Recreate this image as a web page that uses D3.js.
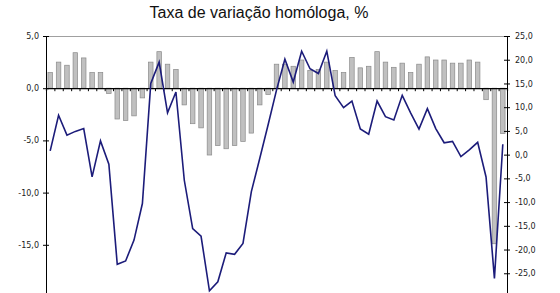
<!DOCTYPE html>
<html>
<head>
<meta charset="utf-8">
<style>
  body { margin: 0; background: #fff; }
  svg { display: block; }
  .tick text { font-family: "DejaVu Sans", Verdana, sans-serif; font-size: 8px; fill: #222; }
</style>
</head>
<body>
<div id="chart"></div>
<script src="https://d3js.org/d3.v7.min.js"></script>
<script>
// bars: left axis, line: right axis
var barValues = [1.5, 2.5, 2.2, 3.4, 2.9, 1.5, 1.5, -0.5, -2.95, -3.1,
                 -2.65, -0.93, 2.5, 3.5, 2.3, 1.8, -1.6, -3.4, -3.8, -6.4,
                 -5.5, -5.8, -5.5, -5.1, -4.3, -1.6, -0.6, 2.3, 2.3, 2.1,
                 2.7, 1.7, 1.8, 2.5, 1.7, 1.5, 2.95, 1.95, 2.1, 3.5,
                 2.5, 2.0, 2.4, 1.5, 2.3, 3.0, 2.7, 2.7, 2.4, 2.4,
                 2.7, 2.5, -1.1, -14.9, -4.35];
var lineValues = [0.8, 8.3, 4.1, 4.9, 5.5, -4.7, 2.9, -2.0, -23.1, -22.4,
                  -18.0, -10.3, 15.0, 19.5, 8.8, 13.2, -5.4, -15.6, -17.2, -28.7,
                  -26.8, -20.7, -21.0, -18.7, -7.8, -0.8, 6.3, 13.6, 20.1, 15.3,
                  21.8, 18.1, 17.1, 21.8, 12.4, 9.9, 11.3, 5.4, 4.3, 11.3,
                  8.0, 7.3, 12.5, 8.8, 5.4, 9.7, 5.5, 2.5, 2.8, -0.4,
                  1.0, 2.6, -4.7, -26.1, 2.2];
var categories = d3.range(1, barValues.length + 1).map(String);
var leftTicks = [5, 0, -5, -10, -15, -20];
var rightTicks = [25, 20, 15, 10, 5, 0, -5, -10, -15, -20, -25, -30];
var title = 'Taxa de variação homóloga, %';

var width = 560, height = 293;
var plot = {left: 46, right: 507, top: 36, bottom: 297};

var svg = d3.select('#chart').append('svg')
    .attr('width', width)
    .attr('height', height);

var x = d3.scaleBand()
    .domain(categories)
    .range([plot.left, plot.right])
    .paddingInner(0.46)
    .paddingOuter(0.23);

var xEdges = d3.scaleLinear()
    .domain([0, categories.length])
    .range([plot.left, plot.right]);

var yLeft = d3.scaleLinear().domain([-20, 5]).range([plot.bottom, plot.top]);
var yRight = d3.scaleLinear().domain([-30, 25]).range([plot.bottom, plot.top]);

// top border of plot area
svg.append('line')
    .attr('x1', plot.left).attr('x2', plot.right)
    .attr('y1', plot.top + 0.5).attr('y2', plot.top + 0.5)
    .attr('stroke', '#a0a0a0');

// bars
svg.append('g').selectAll('rect')
    .data(barValues)
    .enter().append('rect')
    .attr('x', function(d, i) { return x(categories[i]); })
    .attr('width', x.bandwidth())
    .attr('y', function(d) { return yLeft(Math.max(0, d)); })
    .attr('height', function(d) { return Math.abs(yLeft(d) - yLeft(0)); })
    .attr('fill', '#c0c0c0')
    .attr('stroke', '#8a8a8a')
    .attr('stroke-width', 0.7);

// category axis at zero
var catAxis = d3.axisBottom(xEdges)
    .tickValues(d3.range(0, categories.length + 1))
    .tickSize(3)
    .tickFormat('');
svg.append('g')
    .attr('transform', 'translate(0,' + yLeft(0) + ')')
    .call(catAxis)
    .call(function(g) {
        g.select('.domain').attr('stroke', '#000').attr('stroke-width', 1.2);
        g.selectAll('.tick line').attr('stroke', '#000');
    });

// left axis
var leftAxis = d3.axisLeft(yLeft)
    .tickValues(leftTicks)
    .tickSizeInner(3)
    .tickSizeOuter(0)
    .tickFormat(function(d) { return d3.format('.1f')(d).replace('.', ',').replace('−', '-'); });
svg.append('g')
    .attr('transform', 'translate(' + plot.left + ',0)')
    .call(leftAxis)
    .call(function(g) {
        g.select('.domain').attr('stroke', '#000');
        g.selectAll('.tick line').attr('x1', 3).attr('stroke', '#000');
        g.selectAll('.tick text').attr('x', -7);
    });

// right axis
var rightAxis = d3.axisRight(yRight)
    .tickValues(rightTicks)
    .tickSizeInner(3)
    .tickSizeOuter(0)
    .tickFormat(function(d) { return d3.format('.1f')(d).replace('.', ',').replace('−', '-'); });
svg.append('g')
    .attr('transform', 'translate(' + plot.right + ',0)')
    .call(rightAxis)
    .call(function(g) {
        g.select('.domain').attr('stroke', '#000');
        g.selectAll('.tick line').attr('x1', -3).attr('stroke', '#000');
        g.selectAll('.tick text').attr('x', 8);
    });

// line
var line = d3.line()
    .x(function(d, i) { return x(categories[i]) + x.bandwidth() / 2; })
    .y(function(d) { return yRight(d); });

svg.append('path')
    .datum(lineValues)
    .attr('fill', 'none')
    .attr('stroke', '#1c1c7a')
    .attr('stroke-width', 1.6)
    .attr('stroke-linejoin', 'miter')
    .attr('d', line);

// title
svg.append('text')
    .attr('x', 259)
    .attr('y', 18)
    .attr('text-anchor', 'middle')
    .style('font-family', 'Arial, "Liberation Sans", sans-serif')
    .style('font-size', '16px')
    .attr('fill', '#111')
    .text(title);
</script>
</body>
</html>
